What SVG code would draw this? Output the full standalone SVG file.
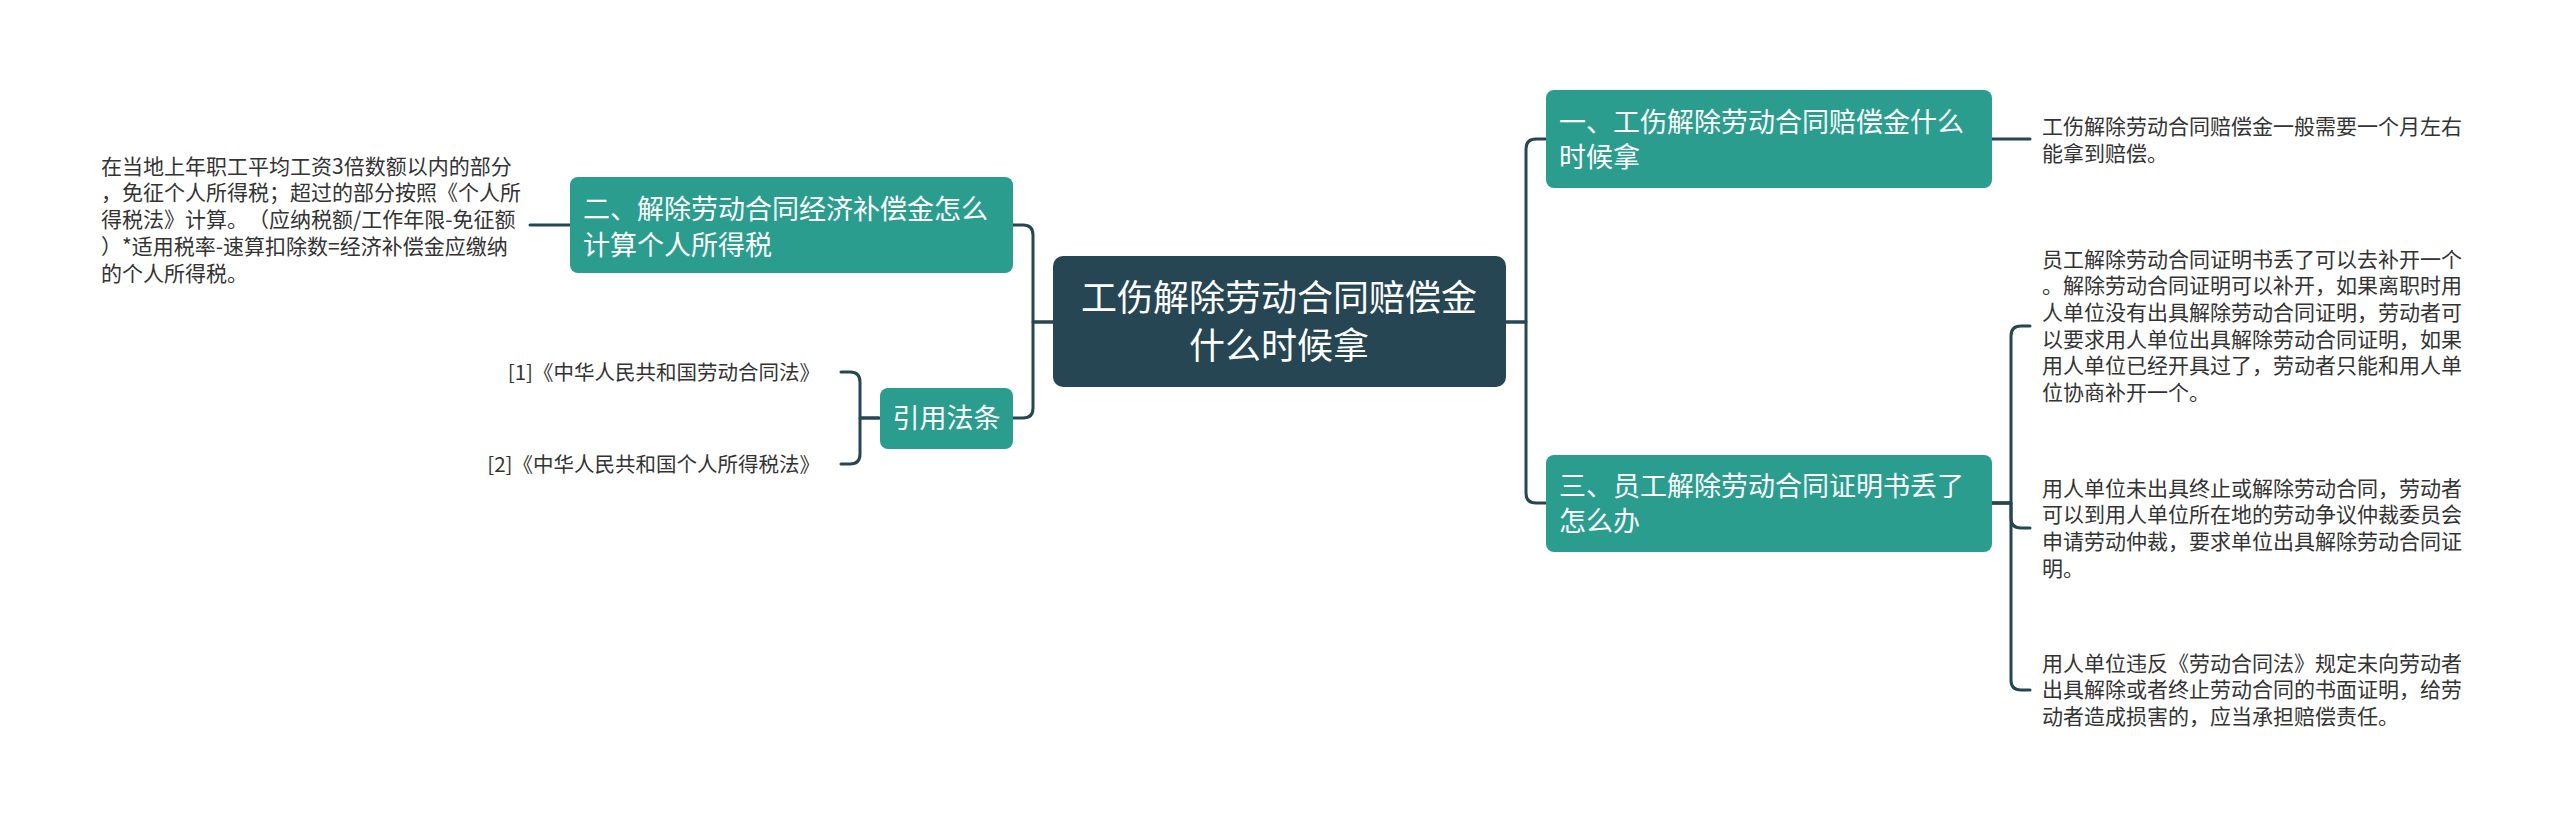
<svg xmlns="http://www.w3.org/2000/svg" width="2560" height="825" viewBox="0 0 2560 825">
<style>
text{font-family:"Noto Sans CJK SC","Noto Sans",sans-serif;text-spacing-trim:space-all;font-kerning:none}
.c{fill:#264653}
.b{fill:#2a9d8f}
.ct{fill:#ffffff;font-size:36px;text-anchor:middle}
.bt{fill:#ffffff;font-size:27px}
.lt{fill:#333333;font-size:21px}
.rt{fill:#333333;font-size:20.5px;text-anchor:end}
.ln{fill:none;stroke:#264653;stroke-width:3;stroke-linecap:round;stroke-linejoin:round}
</style>
<rect width="2560" height="825" fill="#ffffff"/>
<g id="connectors">
<path class="ln" d="M1505 322 H1526 V149 Q1526 139 1536 139 H1546"/>
<path class="ln" d="M1505 322 H1526 V493 Q1526 503 1536 503 H1546"/>
<path class="ln" d="M1992 139 H2030"/>
<path class="ln" d="M1992 503 H2011 V336 Q2011 326 2021 326 H2030"/>
<path class="ln" d="M1992 503 H2011 V518 Q2011 528 2021 528 H2030"/>
<path class="ln" d="M1992 503 H2011 V680 Q2011 690 2021 690 H2030"/>
<path class="ln" d="M1053 322 H1033 V235 Q1033 225 1023 225 H1013"/>
<path class="ln" d="M1053 322 H1033 V408 Q1033 418 1023 418 H1013"/>
<path class="ln" d="M570 225 H530"/>
<path class="ln" d="M879 418 H860 V382 Q860 372 850 372 H841"/>
<path class="ln" d="M879 418 H860 V454 Q860 464 850 464 H841"/>
</g>
<g id="center">
<rect class="c" x="1053" y="256" width="453" height="131" rx="10"/>
<text class="ct" x="1279" y="311">工伤解除劳动合同赔偿金</text>
<text class="ct" x="1279" y="359">什么时候拿</text>
</g>
<g id="branch1">
<rect class="b" x="1546" y="90" width="446" height="98" rx="8"/>
<text class="bt" x="1559" y="132">一、工伤解除劳动合同赔偿金什么</text>
<text class="bt" x="1559" y="167">时候拿</text>
</g>
<g id="leaf1">
<text class="lt" x="2042" y="133.5">工伤解除劳动合同赔偿金一般需要一个月左右</text>
<text class="lt" x="2042" y="160.5">能拿到赔偿。</text>
</g>
<g id="branch3">
<rect class="b" x="1546" y="455" width="446" height="97" rx="8"/>
<text class="bt" x="1559" y="496">三、员工解除劳动合同证明书丢了</text>
<text class="bt" x="1559" y="531">怎么办</text>
</g>
<g id="leaf3a">
<text class="lt" x="2042" y="266.5">员工解除劳动合同证明书丢了可以去补开一个</text>
<text class="lt" x="2042" y="293.2">。解除劳动合同证明可以补开，如果离职时用</text>
<text class="lt" x="2042" y="319.9">人单位没有出具解除劳动合同证明，劳动者可</text>
<text class="lt" x="2042" y="346.6">以要求用人单位出具解除劳动合同证明，如果</text>
<text class="lt" x="2042" y="373.3">用人单位已经开具过了，劳动者只能和用人单</text>
<text class="lt" x="2042" y="400">位协商补开一个。</text>
</g>
<g id="leaf3b">
<text class="lt" x="2042" y="495.5">用人单位未出具终止或解除劳动合同，劳动者</text>
<text class="lt" x="2042" y="522.2">可以到用人单位所在地的劳动争议仲裁委员会</text>
<text class="lt" x="2042" y="548.9">申请劳动仲裁，要求单位出具解除劳动合同证</text>
<text class="lt" x="2042" y="575.6">明。</text>
</g>
<g id="leaf3c">
<text class="lt" x="2042" y="670.5">用人单位违反《劳动合同法》规定未向劳动者</text>
<text class="lt" x="2042" y="697.2">出具解除或者终止劳动合同的书面证明，给劳</text>
<text class="lt" x="2042" y="723.9">动者造成损害的，应当承担赔偿责任。</text>
</g>
<g id="branch2">
<rect class="b" x="570" y="177" width="443" height="96" rx="8"/>
<text class="bt" x="583" y="219">二、解除劳动合同经济补偿金怎么</text>
<text class="bt" x="583" y="255">计算个人所得税</text>
</g>
<g id="leaf2">
<text class="lt" x="101" y="173.5">在当地上年职工平均工资3倍数额以内的部分</text>
<text class="lt" x="101" y="200.3">，免征个人所得税；超过的部分按照《个人所</text>
<text class="lt" x="101" y="227.1">得税法》计算。（应纳税额/工作年限-免征额</text>
<text class="lt" x="101" y="253.9">）*适用税率-速算扣除数=经济补偿金应缴纳</text>
<text class="lt" x="101" y="280.7">的个人所得税。</text>
</g>
<g id="refs">
<rect class="b" x="880" y="388" width="133" height="61" rx="8"/>
<text class="bt" x="946.5" y="428" text-anchor="middle">引用法条</text>
</g>
<g id="ref1">
<text class="rt" x="820" y="379.5">[1]《中华人民共和国劳动合同法》</text>
</g>
<g id="ref2">
<text class="rt" x="820" y="471.5">[2]《中华人民共和国个人所得税法》</text>
</g>
</svg>
